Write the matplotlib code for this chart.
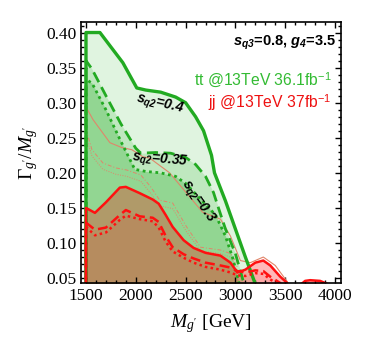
import numpy as np
import matplotlib
matplotlib.use('Agg')
import matplotlib.pyplot as plt
from matplotlib.ticker import MultipleLocator

plt.rcParams['font.family'] = ['Liberation Serif', 'DejaVu Serif']
plt.rcParams['mathtext.fontset'] = 'custom'
plt.rcParams['mathtext.rm'] = 'Liberation Serif'
plt.rcParams['mathtext.it'] = 'Liberation Serif:italic'
plt.rcParams['mathtext.bf'] = 'Liberation Sans:bold:italic'
plt.rcParams['mathtext.sf'] = 'Liberation Sans'

# tt exclusion, s_q2 = 0.4 / 0.35 / 0.3
tt_x_04 = [1500, 1640, 1870, 2010, 2100, 2250, 2400, 2500, 2600, 2680, 2760, 2790, 2900, 3000, 3100, 3230]
tt_y_04 = [0.400, 0.400, 0.357, 0.321, 0.318, 0.315, 0.308, 0.300, 0.280, 0.260, 0.225, 0.200, 0.160, 0.120, 0.080, 0.030]
tt_x_035 = [1500, 1560, 1700, 1850, 2000, 2050, 2200, 2350, 2500, 2600, 2700, 2780, 2830, 2900, 3000, 3110]
tt_y_035 = [0.360, 0.348, 0.310, 0.270, 0.235, 0.228, 0.229, 0.228, 0.222, 0.212, 0.195, 0.172, 0.150, 0.120, 0.085, 0.030]
tt_x_03 = [1500, 1560, 1700, 1850, 1990, 2100, 2250, 2400, 2500, 2600, 2700, 2800, 2900, 2970, 3060]
tt_y_03 = [0.333, 0.328, 0.290, 0.245, 0.205, 0.202, 0.200, 0.195, 0.185, 0.170, 0.155, 0.140, 0.110, 0.080, 0.030]

# jj exclusion
jj_x = [1500, 1590, 1700, 1840, 1900, 2040, 2170, 2230, 2300, 2370, 2480, 2580, 2700, 2850, 2950,
        3020, 3100, 3200, 3280, 3350, 3450, 3520, 3580, 3650, 3700, 3750, 3850, 3950, 4000]
jj_y_04 = [0.150, 0.143, 0.158, 0.179, 0.180, 0.171, 0.162, 0.156, 0.140, 0.123, 0.104, 0.093, 0.086, 0.082, 0.072,
           0.058, 0.062, 0.072, 0.075, 0.068, 0.052, 0.043, 0.030, 0.040, 0.046, 0.047, 0.046, 0.040, 0.030]
jj_y_035 = [0.129, 0.119, 0.122, 0.140, 0.147, 0.138, 0.136, 0.130, 0.110, 0.094, 0.084, 0.078, 0.072, 0.068, 0.065,
            0.060, 0.058, 0.061, 0.060, 0.052, 0.043, 0.030, 0.030, 0.030, 0.030, 0.030, 0.030, 0.030, 0.030]
jj_y_03 = [0.123, 0.111, 0.115, 0.133, 0.139, 0.134, 0.131, 0.122, 0.102, 0.088, 0.079, 0.072, 0.066, 0.062, 0.058,
           0.054, 0.053, 0.057, 0.056, 0.048, 0.040, 0.030, 0.030, 0.030, 0.030, 0.030, 0.030, 0.030, 0.030]

# thin jj curves
thin_x = [1500, 1570, 1740, 1860, 1960, 2070, 2140, 2340, 2510, 2670, 2850, 2950, 3050, 3150, 3280, 3400, 3520]
thin_y = [0.294, 0.276, 0.243, 0.236, 0.233, 0.223, 0.221, 0.200, 0.171, 0.144, 0.134, 0.110, 0.075, 0.072, 0.080, 0.068, 0.045]
thin2_x = [1500, 1560, 1670, 1800, 1910, 2050, 2150, 2240, 2370, 2510, 2650, 2850, 2950, 3020]
thin2_y = [0.262, 0.233, 0.214, 0.207, 0.204, 0.197, 0.180, 0.161, 0.157, 0.123, 0.094, 0.090, 0.085, 0.070]
thin3_y = [0.252, 0.224, 0.205, 0.198, 0.195, 0.188, 0.171, 0.153, 0.149, 0.116, 0.089, 0.085, 0.080, 0.066]

green = '#22aa22'
red = '#ff1010'
salmon = '#e0866a'

fig = plt.figure(figsize=(3.74, 3.54), dpi=100)
ax = fig.add_axes([81/374, 1-283/354, 260/374, 261/354])

ax.fill_between(tt_x_04, 0, tt_y_04, color='#e0f4e0', lw=0)
ax.fill_between(tt_x_035, 0, tt_y_035, color='#bfe8bf', lw=0)
ax.fill_between(tt_x_03, 0, tt_y_03, color='#92d692', lw=0)

ax.fill_between(jj_x, 0, jj_y_04, color='red', alpha=0.28, lw=0)
ax.fill_between(jj_x, 0, jj_y_035, color='red', alpha=0.05, lw=0)
ax.fill_between(jj_x, 0, jj_y_03, color='red', alpha=0.04, lw=0)

ax.plot(thin_x, thin_y, color=salmon, lw=0.8)
ax.plot(thin2_x, thin2_y, color=salmon, lw=0.7, ls=(0, (4, 2, 1, 2)))
ax.plot(thin2_x, thin3_y, color=salmon, lw=0.7, ls=(0, (1, 1.5)))

ax.plot([1500] + tt_x_04, [0] + tt_y_04, color=green, lw=2.4)
ax.plot([1500] + tt_x_035, [0] + tt_y_035, color=green, lw=2.0, ls=(0, (4, 2)))
ax.plot([1500] + tt_x_03, [0] + tt_y_03, color=green, lw=2.0, ls=(0, (1, 1.3)))

ax.plot([1500] + jj_x, [0] + jj_y_04, color=red, lw=1.8)
ax.plot([1500] + jj_x, [0] + jj_y_035, color=red, lw=1.8, ls=(0, (4, 2)))
ax.plot([1500] + jj_x, [0] + jj_y_03, color=red, lw=1.8, ls=(0, (1, 1.3)))

ax.set_xlim(1450, 4060)
ax.set_ylim(0.043, 0.415)
ax.set_xticks([1500, 2000, 2500, 3000, 3500, 4000])
ax.set_yticks(np.arange(0.05, 0.41, 0.05))
ax.set_yticklabels(['0.05', '0.10', '0.15', '0.20', '0.25', '0.30', '0.35', '0.40'])
ax.xaxis.set_minor_locator(MultipleLocator(100))
ax.yaxis.set_minor_locator(MultipleLocator(0.01))
ax.tick_params(which='both', direction='in', top=True, right=True, labelsize=12.5, width=1)
ax.tick_params(which='major', length=4)
ax.tick_params(which='minor', length=2)
for s in ax.spines.values():
    s.set_linewidth(1.2)

ax.set_xlabel(r"$M_{g'}$ [GeV]", fontsize=14, labelpad=6)
ax.set_ylabel(r"$\Gamma_{g'}/M_{g'}$", fontsize=14, labelpad=4)

ax.text(0.982, 0.918, r'$\mathbf{s}_{\mathbf{q3}}$=0.8, $\mathbf{g}_{\mathbf{4}}$=3.5', transform=ax.transAxes,
        ha='right', va='center', fontsize=10.5, fontweight='bold', family='Liberation Sans')
ax.text(0.965, 0.778, r'tt @13TeV 36.1fb$^{\mathsf{-1}}$', transform=ax.transAxes,
        ha='right', va='center', fontsize=11.3, color='#33bb33', family='Liberation Sans')
ax.text(0.965, 0.693, r'jj @13TeV 37fb$^{\mathsf{-1}}$', transform=ax.transAxes,
        ha='right', va='center', fontsize=11.3, color='#ee1111', family='Liberation Sans')

ax.text(2243, 0.297, r'$\mathbf{s}_{\mathbf{q2}}$=0.4', rotation=-13, ha='center', va='center',
        fontsize=10, fontweight='bold', style='italic', family='Liberation Sans')
ax.text(2243, 0.217, r'$\mathbf{s}_{\mathbf{q2}}$=0.35', rotation=-5, ha='center', va='center',
        fontsize=10, fontweight='bold', style='italic', family='Liberation Sans')
ax.text(2614, 0.159, r'$\mathbf{s}_{\mathbf{q2}}$=0.3', rotation=-55, ha='center', va='center',
        fontsize=10, fontweight='bold', style='italic', family='Liberation Sans')

fig.savefig('out.png', dpi=100)
